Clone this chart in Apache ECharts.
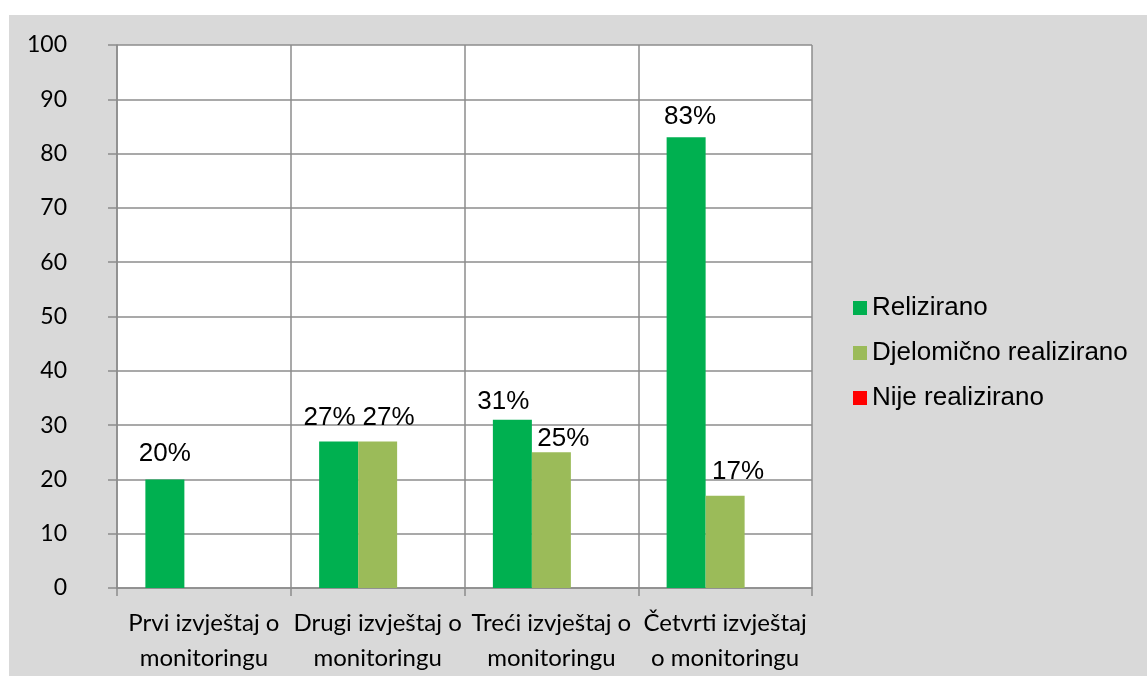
<!DOCTYPE html>
<html>
<head>
<meta charset="utf-8">
<script src="https://cdn.jsdelivr.net/npm/echarts@6/dist/echarts.min.js"></script>
<style>
html,body{margin:0;padding:0;background:#ffffff;}
#bg{position:absolute;left:9px;top:15px;width:1138px;height:661px;background:#d9d9d9;}
#chart{position:absolute;left:0;top:0;width:1147px;height:676px;}
</style>
</head>
<body>
<div id="bg"></div>
<div id="chart"></div>
<script>
const categories = ["Prvi izvještaj o\nmonitoringu", "Drugi izvještaj o\nmonitoringu", "Treći izvještaj o\nmonitoringu", "Četvrti izvještaj\no monitoringu"];
const seriesNames = ["Relizirano", "Djelomično realizirano", "Nije realizirano"];
const realizirano = [20, 27, 31, 83];
const djelomicno = [null, 27, 25, 17];
const nije = [null, null, null, null];
const yTicks = {min: 0, max: 100, interval: 10};
const colors = ["#00b050", "#9bbb59", "#ff0000"];
// nudges of data labels (as placed in the original, to avoid overlaps)
const labelShiftX = [[0, -9, -9, 4], [0, 11, 12, 13], [0, 0, 0, 0]];
const labelShiftY = [[-2, 0, 6, 4], [0, 0, 11, 0], [0, 0, 0, 0]];

const chart = echarts.init(document.getElementById('chart'), null, {renderer: 'canvas'});
const labelCfg = {
  show: true, position: 'top', distance: 11, color: '#000',
  fontFamily: 'Liberation Sans, Arial, sans-serif', fontSize: 26,
  formatter: p => p.value == null ? '' : p.value + '%'
};
const dataSets = [realizirano, djelomicno, nije];
chart.setOption({
  animation: false,
  backgroundColor: 'transparent',
  grid: {left: 117, right: 335, top: 45, bottom: 86, containLabel: false, show: true, backgroundColor: '#ffffff', borderWidth: 0},
  legend: {
    orient: 'vertical', left: 848, top: 290,
    itemWidth: 14, itemHeight: 14, itemGap: 19, icon: 'rect',
    textStyle: {fontFamily: 'Liberation Sans, Arial, sans-serif', fontSize: 26, color: '#000'},
    data: seriesNames
  },
  xAxis: {
    type: 'category', data: categories, boundaryGap: true,
    axisLine: {show: true, lineStyle: {color: '#8c8c8c', width: 1.5}},
    axisTick: {show: true, length: 8, lineStyle: {color: '#8c8c8c', width: 1.5}},
    splitLine: {show: true, lineStyle: {color: '#8c8c8c', width: 1.5}},
    axisLabel: {
      interval: 0, margin: 18, color: '#000', fontFamily: 'Lato, Carlito, sans-serif', fontSize: 24, lineHeight: 35
    }
  },
  yAxis: {
    type: 'value', min: yTicks.min, max: yTicks.max, interval: yTicks.interval,
    axisLine: {show: true, lineStyle: {color: '#8c8c8c', width: 1.5}},
    axisTick: {show: true, length: 9, lineStyle: {color: '#8c8c8c', width: 1.5}},
    splitLine: {show: true, lineStyle: {color: '#8c8c8c', width: 1.5}},
    axisLabel: {margin: 50, color: '#000', fontFamily: 'Lato, Carlito, sans-serif', fontSize: 23}
  },
  series: seriesNames.map((n, i) => ({
    name: n, type: 'bar', barWidth: 39, barGap: '0%', barCategoryGap: '33%',
    data: dataSets[i].map((v, j) => ({value: v, label: {offset: [labelShiftX[i][j], labelShiftY[i][j]]}})),
    itemStyle: {color: colors[i]}, label: labelCfg
  }))
});
</script>
</body>
</html>
